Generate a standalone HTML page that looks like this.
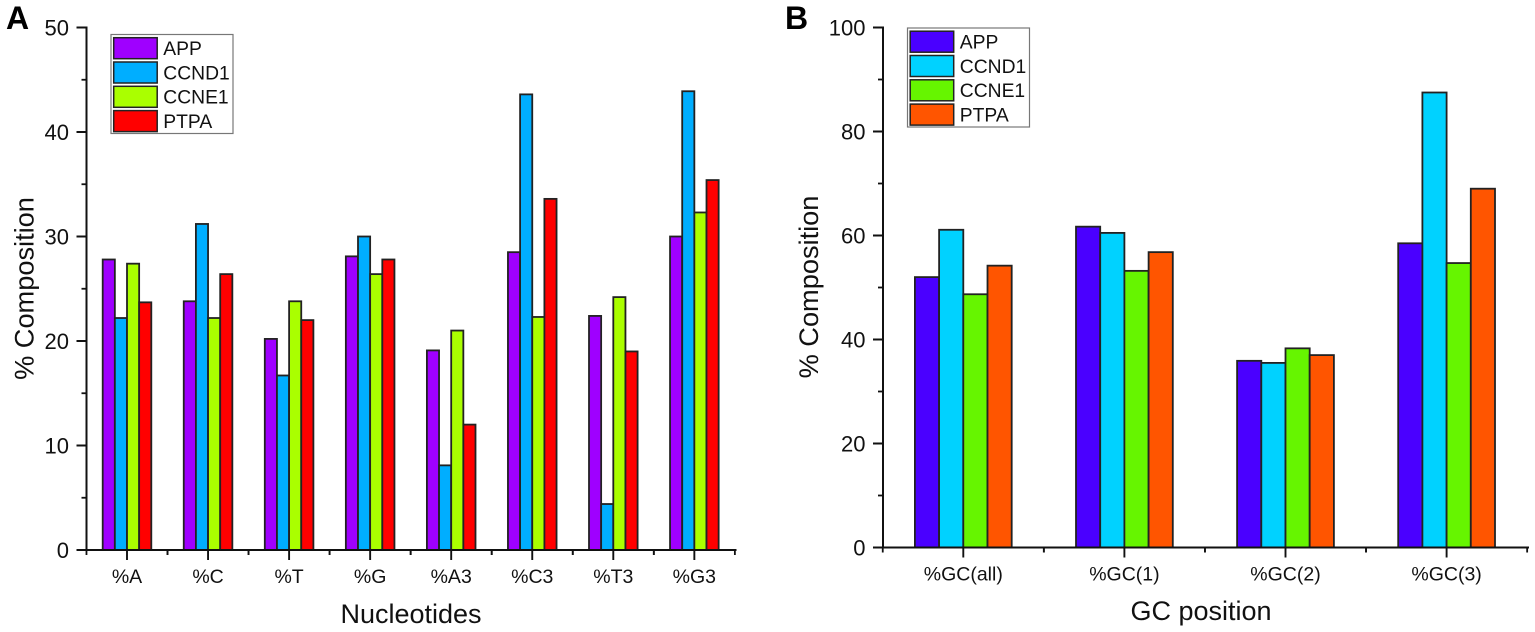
<!DOCTYPE html>
<html>
<head>
<meta charset="utf-8">
<style>
html,body{margin:0;padding:0;background:#fff;width:1535px;height:632px;overflow:hidden}
svg{display:block}
text{font-family:"Liberation Sans",sans-serif;fill:#111}
</style>
</head>
<body>
<svg id="chart" width="1535" height="632" viewBox="0 0 1535 632" xmlns="http://www.w3.org/2000/svg"></svg>
<script>
const seriesNames = ['APP', 'CCND1', 'CCNE1', 'PTPA'];

const categoriesA = ['%A', '%C', '%T', '%G', '%A3', '%C3', '%T3', '%G3'];
const appA = [27.8, 23.8, 20.2, 28.1, 19.1, 28.5, 22.4, 30.0];
const ccnd1A = [22.2, 31.2, 16.7, 30.0, 8.1, 43.6, 4.4, 43.9];
const ccne1A = [27.4, 22.2, 23.8, 26.4, 21.0, 22.3, 24.2, 32.3];
const ptpaA = [23.7, 26.4, 22.0, 27.8, 12.0, 33.6, 19.0, 35.4];
const ticksA = [0, 10, 20, 30, 40, 50];

const categoriesB = ['%GC(all)', '%GC(1)', '%GC(2)', '%GC(3)'];
const appB = [52.0, 61.7, 35.9, 58.5];
const ccnd1B = [61.1, 60.5, 35.5, 87.5];
const ccne1B = [48.7, 53.2, 38.3, 54.7];
const ptpaB = [54.2, 56.8, 37.0, 69.0];
const ticksB = [0, 20, 40, 60, 80, 100];

const svg = document.getElementById('chart');
const NS = 'http://www.w3.org/2000/svg';

function add(parent, tag, attrs, txt) {
  const el = document.createElementNS(NS, tag);
  for (const k in attrs) el.setAttribute(k, attrs[k]);
  if (txt !== undefined) el.textContent = txt;
  parent.appendChild(el);
  return el;
}

function drawPanel(cfg) {
  const g = add(svg, 'g', {});
  
  

  const yScale = v => cfg.y0 - (v / cfg.yMax) * (cfg.y0 - cfg.yTop);
  const xCenter = i => cfg.firstCenter + i * cfg.step;
  const barW = cfg.barW;

  // bars
  cfg.series.forEach((vals, s) => {
    vals.forEach((v, i) => {
      const x = xCenter(i) + (s - 2) * barW;
      const y = yScale(v);
      const r = add(g, 'rect', {
        x: x, y: y, width: barW, height: cfg.y0 - y,
        fill: cfg.colors[s], stroke: '#222', 'stroke-width': 1.8
      });
      
      
    });
  });

  // y axis
  const yAxis = add(g, 'line', {x1: cfg.axisX, x2: cfg.axisX, y1: cfg.yTop - 1, y2: cfg.y0, stroke: '#111', 'stroke-width': 2});
  
  

  cfg.ticks.forEach((t, i) => {
    const y = yScale(t);
    const tick = add(g, 'line', {x1: cfg.axisX - 10, x2: cfg.axisX, y1: y, y2: y, stroke: '#111', 'stroke-width': 2});
    
    
    const lab = add(g, 'text', {x: cfg.axisX - 17.5, y: y + 8, 'text-anchor': 'end', 'font-size': 22}, t);
    
    
    if (i < cfg.ticks.length - 1) {
      const my = yScale((t + cfg.ticks[i + 1]) / 2);
      const minor = add(g, 'line', {x1: cfg.axisX - 5, x2: cfg.axisX, y1: my, y2: my, stroke: '#111', 'stroke-width': 1.8});
      
      
    }
  });

  // x axis
  const xAxis = add(g, 'line', {x1: cfg.axisX - 10, x2: cfg.axisEnd + 1, y1: cfg.y0, y2: cfg.y0, stroke: '#111', 'stroke-width': 2});
  
  

  cfg.categories.forEach((c, i) => {
    const x = xCenter(i);
    const tick = add(g, 'line', {x1: x, x2: x, y1: cfg.y0, y2: cfg.y0 + 10, stroke: '#111', 'stroke-width': 1.9});
    
    
    const lab = add(g, 'text', {x: x, y: cfg.y0 + 33, 'text-anchor': 'middle', 'font-size': 19.5}, c);
    
    
    [x - cfg.step / 2, x + cfg.step / 2].forEach(mx => {
      const minor = add(g, 'line', {x1: mx, x2: mx, y1: cfg.y0, y2: cfg.y0 + 5, stroke: '#111', 'stroke-width': 1.8});
      
      
    });
  });

  // titles
  const xt = add(g, 'text', {x: cfg.xTitleX, y: cfg.xTitleY, 'text-anchor': 'middle', 'font-size': 27}, cfg.xTitle);
  
  

  const yt = add(g, 'text', {x: 0, y: 0, 'text-anchor': 'middle', 'font-size': 27.2,
    transform: 'translate(' + cfg.yTitleX + ' ' + cfg.yTitleY + ') rotate(-90)'}, '% Composition');
  
  

  const pl = add(g, 'text', {x: cfg.panelX, y: 29, 'font-size': 32, 'font-weight': 'bold'}, cfg.panelLabel);
  pl.style.fill = '#000';
  
  

  // legend
  const lg = add(g, 'g', {});
  
  
  const box = add(lg, 'rect', {x: cfg.legX, y: cfg.legY, width: 122, height: 99, fill: '#fff', stroke: '#777', 'stroke-width': 1.2});
  
  
  seriesNames.forEach((n, s) => {
    const y = cfg.legY + 3.2 + s * 24.3;
    const sw = add(lg, 'rect', {x: cfg.legX + 2.7, y: y, width: 43.5, height: 21, fill: cfg.colors[s], stroke: '#222', 'stroke-width': 1.5});
    
    
    const t = add(lg, 'text', {x: cfg.legX + 52.3, y: y + 17.3, 'font-size': 19.3}, n);
    
    
  });
}

drawPanel({
  id: 'panel-a', panelLabel: 'A', panelX: 6,
  categories: categoriesA, series: [appA, ccnd1A, ccne1A, ptpaA], ticks: ticksA, yMax: 50,
  colors: ['#9f00ff', '#00aeff', '#aaff00', '#ff0000'],
  y0: 550, yTop: 27.5, axisX: 86.5, axisEnd: 735.5, firstCenter: 127, step: 81.05, barW: 12.15,
  xTitle: 'Nucleotides', xTitleX: 411, xTitleY: 623,
  yTitleX: 33.5, yTitleY: 288.5, legX: 111, legY: 34.5
});

drawPanel({
  id: 'panel-b', panelLabel: 'B', panelX: 785,
  categories: categoriesB, series: [appB, ccnd1B, ccne1B, ptpaB], ticks: ticksB, yMax: 100,
  colors: ['#4a00ff', '#00d2ff', '#66f500', '#ff5500'],
  y0: 547.5, yTop: 27.5, axisX: 883, axisEnd: 1528, firstCenter: 963.3, step: 161.1, barW: 24.2,
  xTitle: 'GC position', xTitleX: 1201, xTitleY: 620,
  yTitleX: 818, yTitleY: 287, legX: 907.5, legY: 28
});
</script>
</body>
</html>
